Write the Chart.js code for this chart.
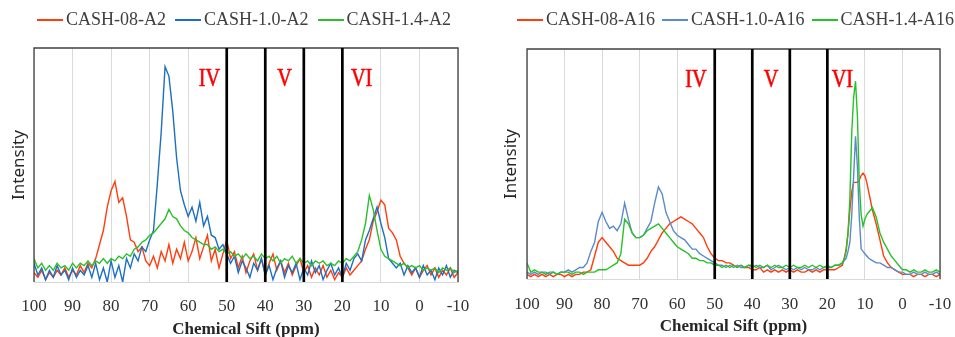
<!DOCTYPE html>
<html>
<head>
<meta charset="utf-8">
<script src="https://cdn.jsdelivr.net/npm/chart.js@4.4.1/dist/chart.umd.min.js"></script>
<style>
    body { margin: 0; background: #fff; width: 955px; height: 337px; overflow: hidden; position: relative; }
    .panel { position: absolute; top: 0; height: 345px; }
    .legend { position: absolute; top: 9px; display: flex; align-items: center; font-family: 'Liberation Serif', serif; font-size: 18px; color: #404040; white-space: nowrap; }
    .legend .item { display: flex; align-items: center; }
    .legend .swatch { display: inline-block; width: 26px; height: 1.6px; margin-right: 3px; margin-top: 1px; }
</style>
</head>
<body>
<div class="panel" style="left:0;width:480px"><canvas id="leftChart"></canvas></div>
<div class="panel" style="left:480px;width:475px"><canvas id="rightChart"></canvas></div>
<div class="legend" id="leftLegend" style="left:37px"></div>
<div class="legend" id="rightLegend" style="left:517px"></div>
<script>
// Chemical shift axis (ppm) for the left spectra
const ppmLeft = [
    100, 99, 98, 97, 96, 95, 94, 93, 92, 91,
    90, 89, 88, 87, 86, 85, 84, 83, 82, 81,
    80, 79, 78, 77, 76, 75, 74, 73, 72, 71,
    70, 69, 68, 67, 66, 65, 64, 63, 62, 61,
    60, 59, 58, 57, 56, 55, 54, 53, 52, 51,
    50, 49, 48, 47, 46, 45, 44, 43, 42, 41,
    40, 39, 38, 37, 36, 35, 34, 33, 32, 31,
    30, 29, 28, 27, 26, 25, 24, 23, 22, 21,
    20, 19, 18, 17, 16, 15, 14, 13, 12, 11,
    10, 9, 8, 7, 6, 5, 4, 3, 2, 1,
    0, -1, -2, -3, -4, -5, -6, -7, -8, -9, -10
];
const leftNames = ['CASH-08-A2', 'CASH-1.0-A2', 'CASH-1.4-A2'];
const redLeft = [
    4, 2, 5, 1, 4, 2, 5, 3, 6, 2,
    5, 3, 7, 4, 8, 6, 10, 16, 22, 32,
    39, 43, 34, 36, 28, 18, 17, 13, 15, 9,
    7, 11, 6, 13, 9, 16, 8, 14, 10, 17,
    9, 13, 19, 10, 15, 20, 9, 14, 6, 12,
    18, 10, 13, 6, 11, 4, 9, 12, 5, 10,
    3, 8, 12, 5, 9, 4, 8, 3, 7, 10,
    4, 7, 2, 6, 3, 7, 2, 5, 1, 4,
    2, 6, 3, 5, 7, 9, 14, 18, 26, 30,
    35, 33, 23, 21, 18, 11, 8, 6, 3, 6,
    2, 5, 7, 3, 6, 2, 5, 3, 6, 2, 4
];
const blueLeft = [
    8, 3, 6, 1, 5, 2, 7, 3, 5, 1,
    6, 2, 5, 3, 7, 2, 8, 1, 6, 0,
    9, 2, 7, 0, 10, 6, 12, 9, 15, 13,
    18, 22, 42, 64, 92, 88, 73, 53, 39, 33,
    28, 32, 26, 34, 24, 28, 20, 19, 14, 16,
    12, 8, 11, 4, 9, 6, 2, 8, 5, 10,
    3, 7, 1, 6, 9, 2, 7, 4, 8, 1,
    6, 3, 9, 4, 7, 1, 5, 8, 3, 6,
    2, 8, 5, 10, 12, 9, 18, 22, 27, 32,
    25, 19, 10, 8, 6, 8, 3, 7, 4, 6,
    2, 7, 3, 5, 1, 6, 3, 7, 2, 5, 4
];
const greenLeft = [
    10, 6, 8, 5, 7, 5, 8, 6, 7, 5,
    8, 6, 8, 7, 9, 7, 9, 8, 10, 8,
    10, 9, 11, 10, 12, 11, 14, 15, 17, 18,
    20, 21, 23, 25, 27, 31, 28, 27, 24, 22,
    21, 19, 18, 17, 16, 16, 14, 15, 13, 14,
    12, 13, 11, 12, 10, 12, 10, 11, 9, 12,
    10, 11, 9, 11, 8, 10, 9, 11, 8, 10,
    8, 9, 7, 9, 8, 9, 7, 8, 7, 9,
    8, 10, 9, 11, 13, 18, 25, 37, 31, 22,
    14, 11, 10, 9, 8, 7, 8, 6, 7, 6,
    7, 5, 6, 5, 6, 4, 6, 5, 6, 4, 5
];

// Right spectra: finer sampling around the sharp peak near 12 ppm
const ppmRight = [
    100, 99, 98, 97, 96, 95, 94, 93, 92, 91,
    90, 89, 88, 87, 86, 85, 84, 83, 82, 81,
    80, 79, 78, 77, 76, 75, 74, 73, 72, 71,
    70, 69, 68, 67, 66, 65, 64, 63, 62, 61,
    60, 59, 58, 57, 56, 55, 54, 53, 52, 51,
    50, 49, 48, 47, 46, 45, 44, 43, 42, 41,
    40, 39, 38, 37, 36, 35, 34, 33, 32, 31,
    30, 29, 28, 27, 26, 25, 24, 23, 22, 21,
    20, 19, 18, 17,
    16, 15.5, 15, 14.5, 14, 13.5, 13, 12.5, 12, 11.5, 11, 10.5, 10, 9.5, 9,
    8, 7, 6, 5, 4, 3, 2, 1, 0, -1, -2, -3, -4, -5, -6, -7, -8, -9, -10
];
const rightNames = ['CASH-08-A16', 'CASH-1.0-A16', 'CASH-1.4-A16'];
const redRight = [
    2, 1, 2, 1, 2, 1, 2, 1, 2, 2,
    1, 2, 1, 2, 2, 3, 3, 4, 10, 16,
    18, 16, 14, 12, 9, 8, 7, 6, 6, 6,
    6, 7, 9, 12, 14, 17, 20, 22, 24, 25,
    26, 27, 26, 25, 24, 22, 20, 18, 14, 11,
    9, 8, 8, 7, 7, 6, 5, 6, 5, 5,
    4, 4, 5, 3, 4, 3, 4, 3, 4, 3,
    4, 3, 4, 3, 3, 4, 3, 4, 3, 4,
    4, 4, 4, 5,
    6, 9, 13, 20, 30, 38, 42, 42, 42, 43, 45, 46, 45, 42, 38,
    30, 24, 17, 10, 7, 5, 4, 3, 2, 2, 2, 1, 2, 2, 1, 2, 2, 1, 2
];
const blueRight = [
    3, 2, 3, 2, 3, 3, 2, 3, 2, 3,
    3, 4, 3, 4, 5, 5, 7, 12, 16, 25,
    29, 25, 22, 23, 21, 24, 33, 26, 20, 18,
    18, 19, 22, 25, 33, 40, 37, 29, 25, 21,
    19, 18, 17, 15, 13, 13, 11, 10, 9, 8,
    7, 6, 6, 5, 6, 5, 6, 5, 5, 6,
    5, 6, 5, 5, 6, 4, 5, 6, 5, 4,
    5, 4, 5, 4, 5, 4, 4, 5, 4, 5,
    5, 5, 6, 6,
    7, 8, 9, 12, 16, 28, 45, 62, 49, 27, 13, 12, 11, 10, 9,
    8, 7, 7, 6, 5, 5, 4, 3, 3, 2, 2, 3, 2, 2, 3, 2, 2, 3, 2
];
const greenRight = [
    7, 3, 4, 3, 3, 2, 3, 3, 2, 3,
    3, 3, 2, 3, 3, 2, 3, 3, 3, 4,
    4, 4, 5, 6, 7, 11, 26, 24, 20, 18,
    18, 19, 21, 22, 23, 24, 22, 20, 18, 16,
    14, 13, 12, 11, 9, 9, 8, 8, 7, 7,
    6, 6, 5, 6, 5, 6, 5, 6, 5, 6,
    6, 5, 6, 5, 6, 5, 6, 5, 5, 6,
    5, 6, 5, 5, 6, 5, 6, 5, 6, 5,
    6, 5, 6, 6,
    7, 9, 12, 20, 35, 64, 79, 86, 71, 42, 28, 23, 26, 28, 29,
    31, 27, 20, 16, 13, 10, 8, 6, 4, 4, 3, 4, 3, 3, 4, 3, 3, 4, 3
];

// Region boundaries and region labels (ppm)
const boundaries = [50, 40, 30, 20];
const regionNames = ['IV', 'V', 'VI'];
const regionPpmLeft = [54.5, 35, 15];
const regionPpmRight = [55, 35, 16];

const xTicks = [100, 90, 80, 70, 60, 50, 40, 30, 20, 10, 0, -10];

const leftColors = ['#FF3D0D', '#1C6FC2', '#2DBE2D'];
const rightColors = ['#FF3D0D', '#5B8ACB', '#27C227'];

const toPoints = (xs, ys) => xs.map((x, i) => ({ x: x, y: ys[i] }));

// Frame, region boundaries and roman labels
const regionPlugin = {
    id: 'regions',
    afterDatasetsDraw(chart, args, opts) {
        const { ctx, chartArea: a, scales: { x, y } } = chart;
        ctx.save();
        ctx.strokeStyle = '#404040';
        ctx.lineWidth = 1.3;
        ctx.beginPath();
        ctx.moveTo(a.left, a.bottom);
        ctx.lineTo(a.left, a.top);
        ctx.lineTo(a.right, a.top);
        ctx.lineTo(a.right, a.bottom);
        ctx.stroke();

        ctx.strokeStyle = '#000';
        ctx.lineWidth = 2.7;
        boundaries.forEach(v => {
            const px = x.getPixelForValue(v);
            ctx.beginPath();
            ctx.moveTo(px, a.top);
            ctx.lineTo(px, a.bottom);
            ctx.stroke();
        });

        // narrow, tall serif numerals
        ctx.fillStyle = '#FF0000';
        ctx.font = '26px "Liberation Serif"';
        ctx.textAlign = 'center';
        ctx.textBaseline = 'middle';
        regionNames.forEach((name, i) => {
            ctx.save();
            ctx.translate(x.getPixelForValue(opts.positions[i]), y.getPixelForValue(87) + 1);
            ctx.scale(0.78, 1);
            ctx.lineWidth = 0.6;
            ctx.strokeStyle = '#FF0000';
            ctx.fillText(name, 0, 0);
            ctx.strokeText(name, 0, 0);
            ctx.restore();
        });
        ctx.restore();
    }
};

function buildLegend(id, names, colors, gap) {
    const el = document.getElementById(id);
    names.forEach((name, i) => {
        const item = document.createElement('div');
        item.className = 'item';
        item.style.marginRight = gap + 'px';
        item.innerHTML = `<span class="swatch" style="background:${colors[i]}"></span><span>${name}</span>`;
        el.appendChild(item);
    });
}

function makeChart(canvasId, ppm, series, names, colors, positions, layout) {
    const ctx = document.getElementById(canvasId).getContext('2d');
    return new Chart(ctx, {
        type: 'line',
        data: {
            datasets: series.map((s, i) => ({
                label: names[i],
                data: toPoints(ppm, s),
                borderColor: colors[i],
                borderWidth: 1.4,
                pointRadius: 0,
                tension: 0,
                order: 3 - i
            }))
        },
        options: {
            responsive: true,
            maintainAspectRatio: false,
            animation: false,
            devicePixelRatio: 1,
            layout: { padding: { top: layout.top, right: layout.right, left: 0, bottom: 0 } },
            plugins: {
                legend: { display: false },
                tooltip: { enabled: false },
                regions: { positions: positions }
            },
            scales: {
                x: {
                    type: 'linear',
                    reverse: true,
                    min: -10,
                    max: 100,
                    afterBuildTicks: s => { s.ticks = xTicks.map(v => ({ value: v })); },
                    afterFit: s => { s.height = layout.axisHeight; },
                    // invisible tick marks push the labels down without widening the side padding
                    grid: { color: '#d9d9d9', lineWidth: 1, drawTicks: true, tickLength: layout.tickPad, tickColor: 'rgba(0,0,0,0)' },
                    border: { color: '#d9d9d9' },
                    ticks: {
                        autoSkip: false,
                        maxRotation: 0,
                        padding: 0,
                        color: '#333',
                        font: { family: "'Liberation Serif'", size: 17 }
                    },
                    title: {
                        display: true,
                        text: 'Chemical Sift (ppm)',
                        color: '#262626',
                        padding: { top: 0, bottom: layout.titleBottom },
                        font: { family: "'Liberation Serif'", size: 17, weight: 'bold' }
                    }
                },
                y: {
                    min: 0,
                    max: 100,
                    afterFit: s => { s.width = layout.left; },
                    grid: { display: false },
                    border: { display: false },
                    ticks: { display: false },
                    title: {
                        display: true,
                        text: 'Intensity',
                        color: '#262626',
                        padding: { top: layout.titleLeft, bottom: 0 },
                        font: { family: "'Noto Sans'", size: 17 }
                    }
                }
            }
        },
        plugins: [regionPlugin]
    });
}

buildLegend('leftLegend', leftNames, leftColors, 9);
buildLegend('rightLegend', rightNames, rightColors, 7);

makeChart('leftChart', ppmLeft, [redLeft, blueLeft, greenLeft], leftNames, leftColors, regionPpmLeft,
    { top: 48, right: 22, left: 34, axisHeight: 63, tickPad: 14, titleBottom: 5, titleLeft: 9 });
makeChart('rightChart', ppmRight, [redRight, blueRight, greenRight], rightNames, rightColors, regionPpmRight,
    { top: 49, right: 15, left: 47, axisHeight: 66, tickPad: 15, titleBottom: 8, titleLeft: 21 });
</script>
</body>
</html>
